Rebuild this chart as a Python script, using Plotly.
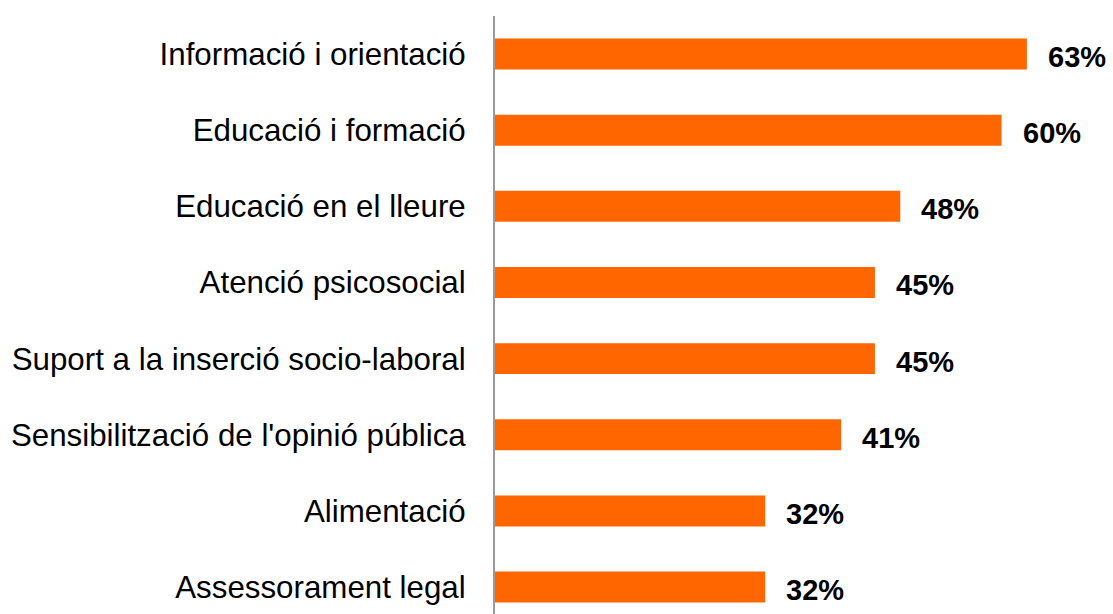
import plotly.graph_objects as go

categories = [
    "Informació i orientació",
    "Educació i formació",
    "Educació en el lleure",
    "Atenció psicosocial",
    "Suport a la inserció socio-laboral",
    "Sensibilització de l'opinió pública",
    "Alimentació",
    "Assessorament legal",
]
values = [63, 60, 48, 45, 45, 41, 32, 32]
value_labels = [f"{v}%" for v in values]

fig = go.Figure()
fig.add_trace(go.Bar(
    x=values,
    y=categories,
    orientation="h",
    width=0.407,
    marker=dict(color="#FF6600", line=dict(width=0)),
    hoverinfo="skip",
))

for c, v, t in zip(categories, values, value_labels):
    fig.add_annotation(
        x=v, y=c, text=f"<b>{t}</b>", showarrow=False,
        xanchor="left", yanchor="middle", xshift=19, yshift=-3,
        font=dict(family="Liberation Sans, Arial, sans-serif", size=29, color="#000000"),
    )

fig.update_layout(
    width=1113, height=614,
    margin=dict(l=495, r=0, t=16, b=0),
    paper_bgcolor="white", plot_bgcolor="white",
    showlegend=False,
    xaxis=dict(range=[0, 73.2], visible=False, fixedrange=True),
    yaxis=dict(
        type="category",
        categoryorder="array", categoryarray=categories,
        range=[7.354, -0.5],
        showline=True, linecolor="#9a9a9a", linewidth=2,
        showgrid=False, zeroline=False, ticks="",
        ticklabelstandoff=21,
        fixedrange=True,
        tickfont=dict(family="Liberation Sans, Arial, sans-serif", size=31.3, color="#000000"),
    ),
)

fig.write_html(
    "out.html",
    config={"displayModeBar": False},
    post_script="document.body.style.margin='0';document.body.style.padding='0';",
)
